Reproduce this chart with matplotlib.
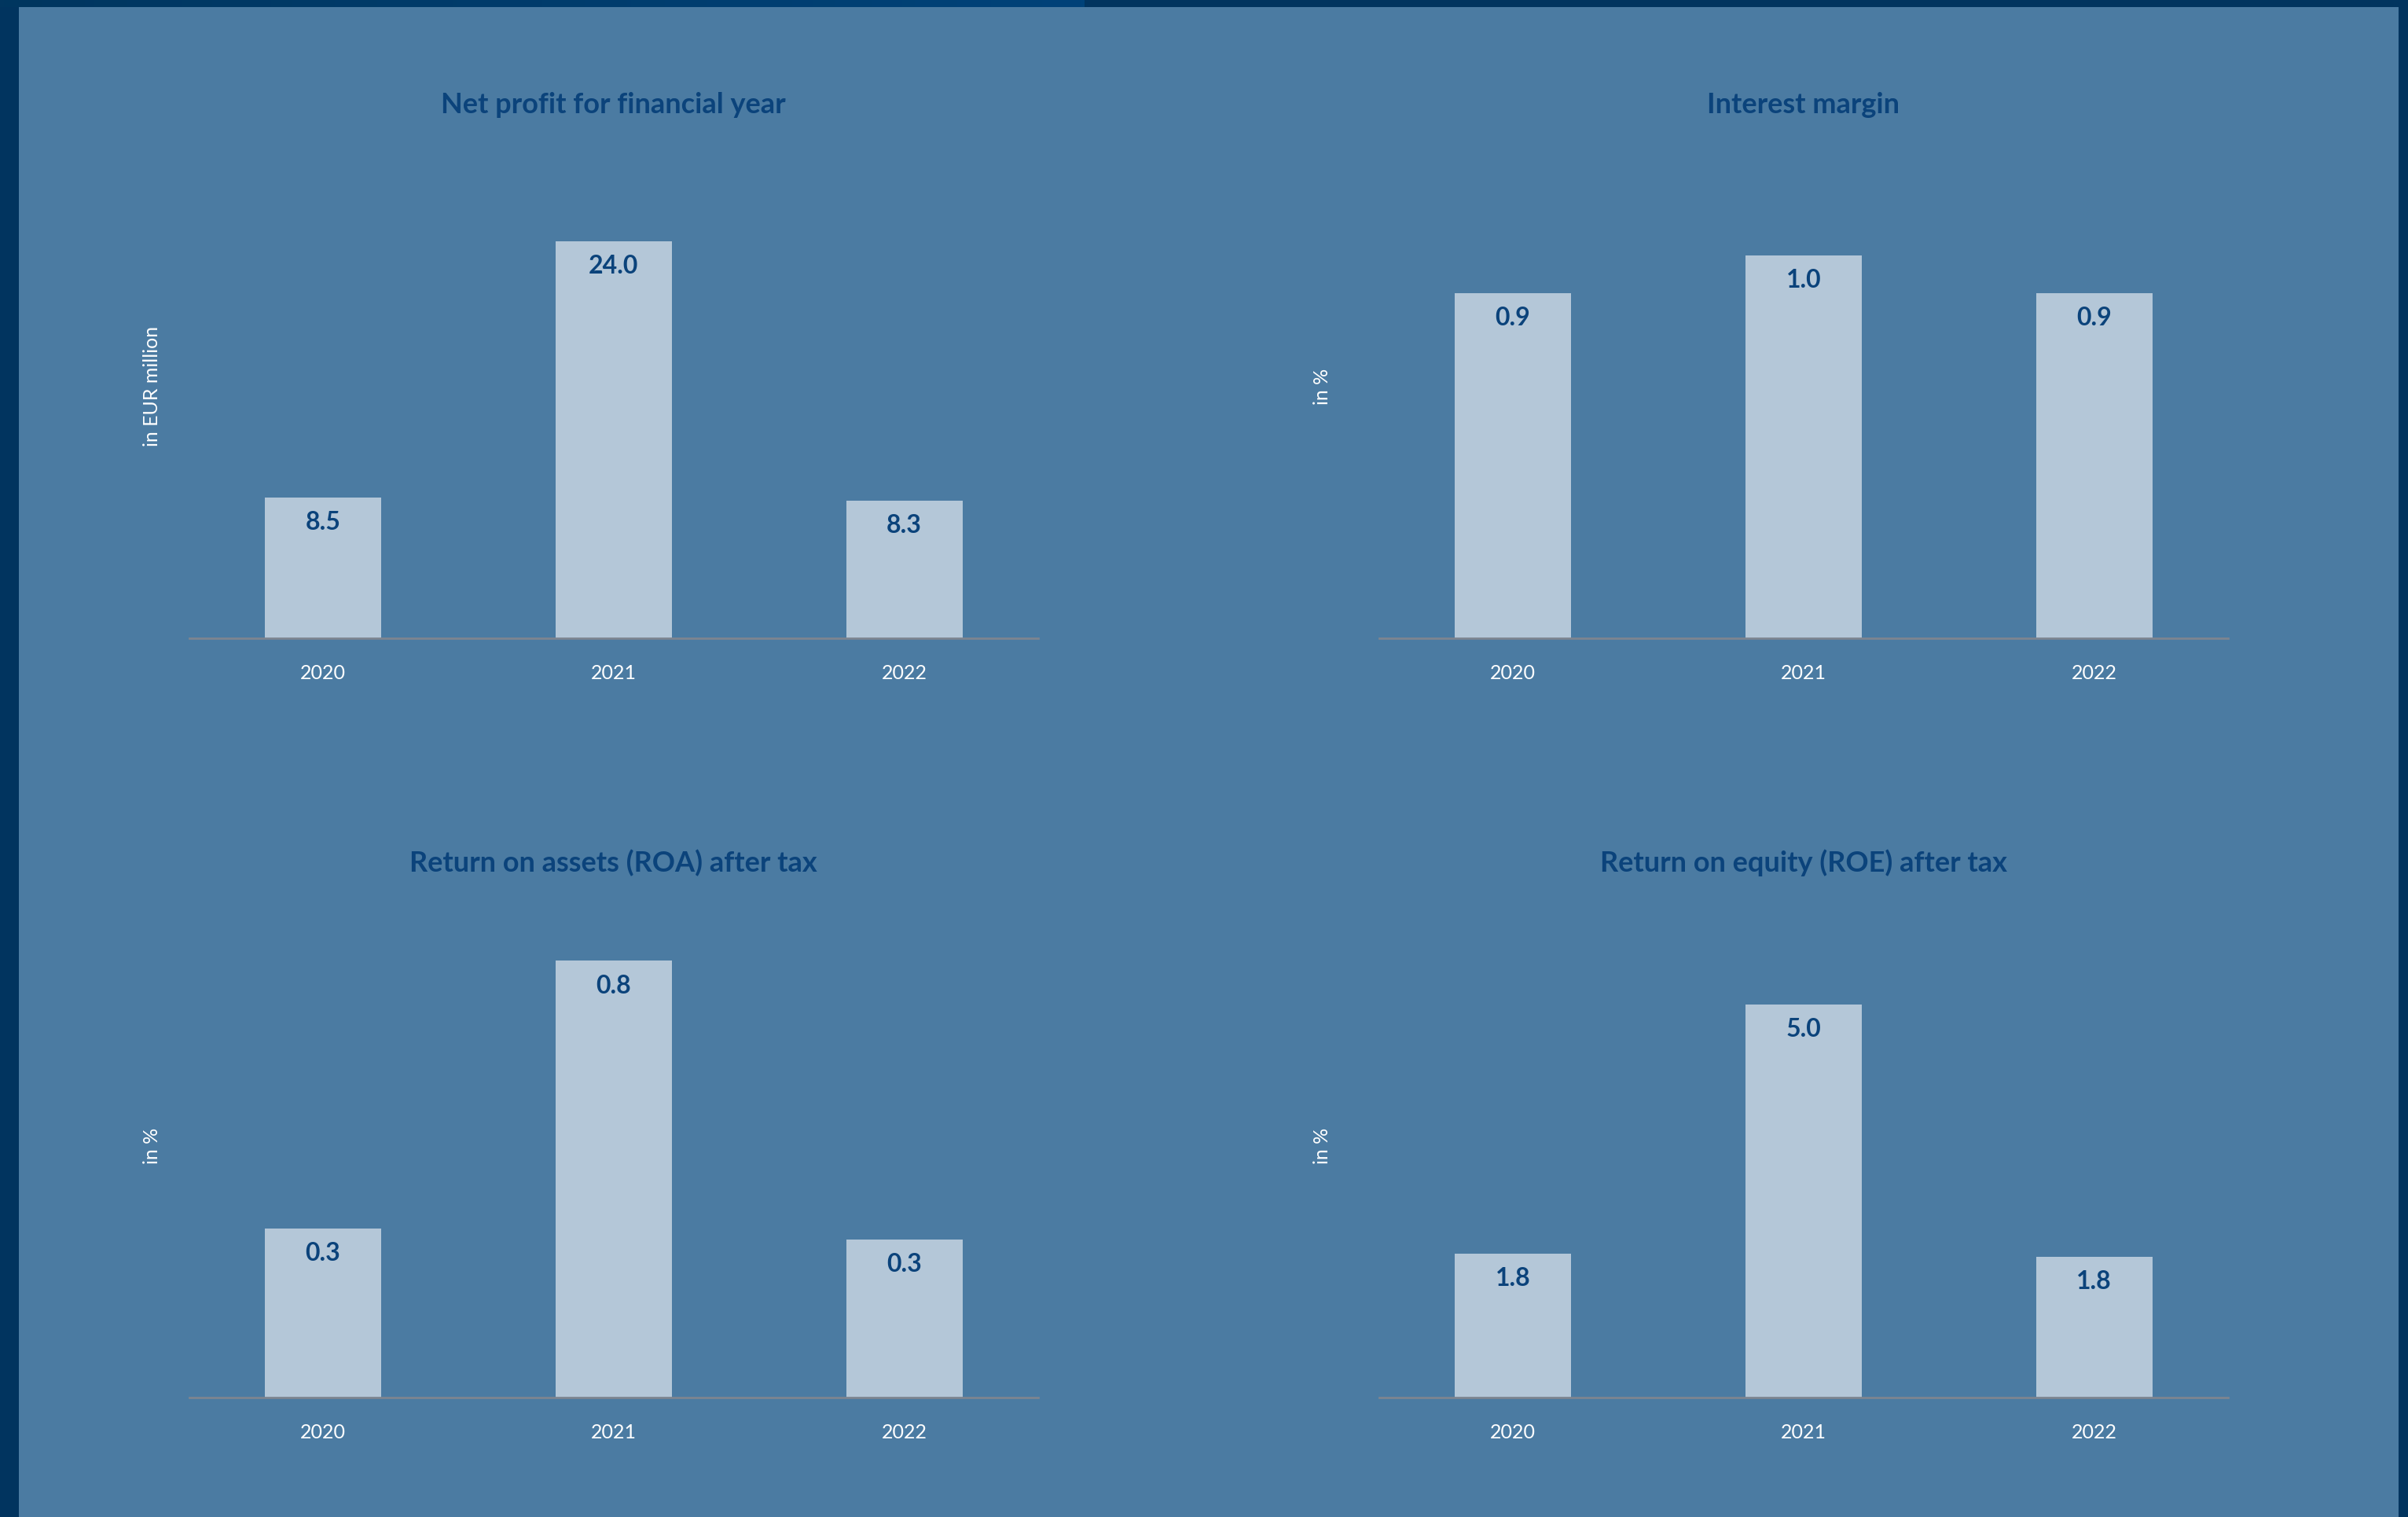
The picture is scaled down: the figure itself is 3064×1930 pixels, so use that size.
import numpy as np
import matplotlib.pyplot as plt
from matplotlib.patches import Rectangle
from matplotlib.colors import LinearSegmentedColormap

# data for the four key figures
years = ['2020', '2021', '2022']
net_profit = [8.5, 24.0, 8.3]
interest_margin = [0.9, 1.0, 0.9]
roa = [0.31, 0.8, 0.29]
roe = [1.83, 5.0, 1.79]

titles = ['Net profit for financial year', 'Interest margin',
          'Return on assets (ROA) after tax', 'Return on equity (ROE) after tax']
units = ['in EUR million', 'in %', 'in %', 'in %']
y_max = [30.5, 1.318, 0.924, 6.41]

BG = '#4b7ba2'
BAR = '#b4c7d8'
NAVY = '#0b437b'
FRAME = '#01345f'

W, H = 3064, 1931
fig = plt.figure(figsize=(W / 100, H / 100), dpi=100, facecolor=FRAME)

# light panel inside the dark frame
fig.patches.append(Rectangle((24 / W, 0), (W - 24 - 12) / W, (H - 10) / H,
                             transform=fig.transFigure, facecolor=BG,
                             edgecolor='none', zorder=-10))
# top strip, slightly lighter on the left part
strip = fig.add_axes([0, (H - 10) / H, 1380 / W, 10 / H])
grad = np.linspace(0, 1, 256).reshape(1, -1)
cmap = LinearSegmentedColormap.from_list('strip', ['#01365f', '#004279'])
strip.imshow(grad, aspect='auto', cmap=cmap)
strip.axis('off')

font = 'Lato'

# axes placement in pixels: left, baseline, height
ax_w = 1080
lefts = [240.8, 1754.8, 240.8, 1754.8]
baselines = [812.8, 812.8, 1779.3, 1779.3]
ax_h = 642
unit_x = [193.5, 1682.5, 193.5, 1682.5]
title_y = [133, 133, 1098, 1098]

series = [net_profit, interest_margin, roa, roe]

for i, vals in enumerate(series):
    x0 = lefts[i]
    y0 = H - baselines[i]
    ax = fig.add_axes([x0 / W, y0 / H, ax_w / W, ax_h / H])
    ax.set_facecolor('none')
    x = np.arange(len(years))
    bars = ax.bar(x, vals, width=0.4, color=BAR, zorder=2)
    ax.set_xlim(-0.46, 2.46)
    ax.set_ylim(0, y_max[i])
    for b, v in zip(bars, vals):
        ax.annotate(f'{v:.1f}', (b.get_x() + b.get_width() / 2, v),
                    xytext=(0, -22), textcoords='offset points',
                    ha='center', va='center', fontsize=23, fontweight='bold',
                    color=NAVY, family=font)
    ax.set_xticks(x)
    ax.set_xticklabels(years, color='white', fontsize=18, family=font)
    ax.tick_params(axis='x', length=0, pad=23)
    ax.set_yticks([])
    for s in ['top', 'right', 'left']:
        ax.spines[s].set_visible(False)
    ax.spines['bottom'].set_color('#7d8590')
    ax.spines['bottom'].set_linewidth(2)
    ax.spines['bottom'].set_zorder(3)

    fig.text((x0 + ax_w / 2) / W, 1 - title_y[i] / H, titles[i],
             ha='center', va='center', fontsize=26, fontweight='bold',
             color=NAVY, family=font)
    fig.text(unit_x[i] / W, (y0 + ax_h / 2) / H, units[i], rotation=90,
             ha='center', va='center', fontsize=18, color='white', family=font)

fig.savefig('out.png', dpi=100, facecolor=FRAME)
